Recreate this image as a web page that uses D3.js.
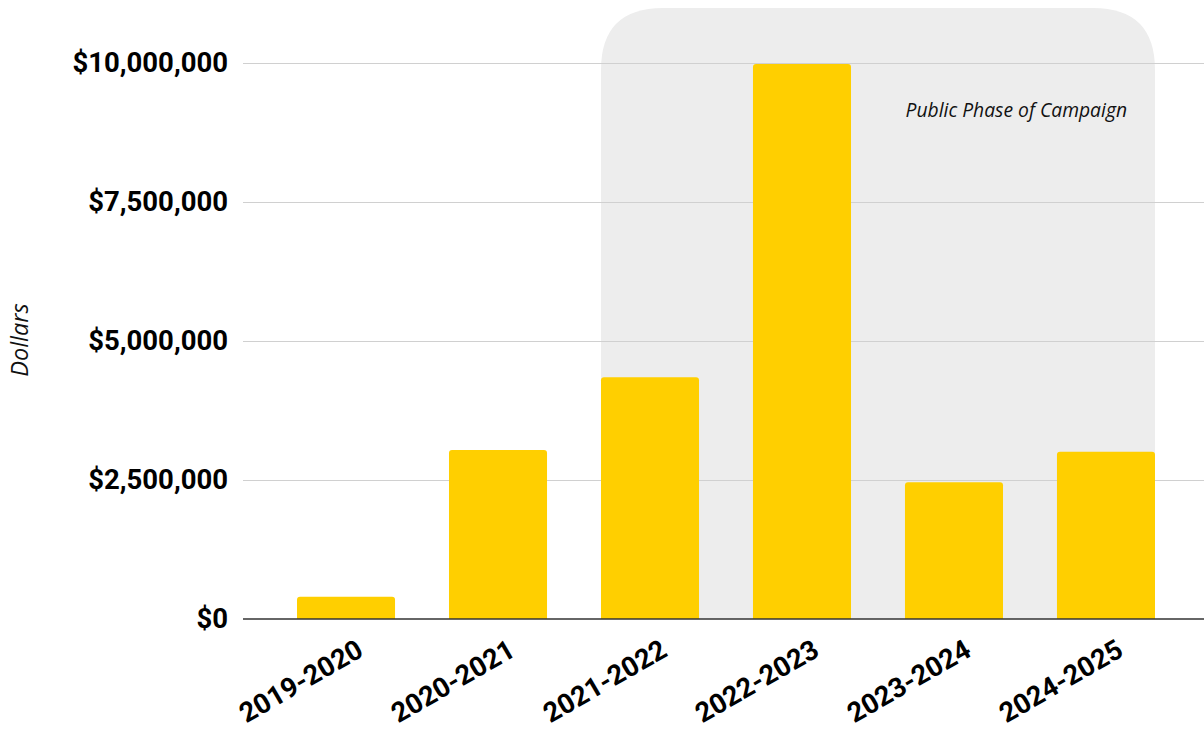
<!DOCTYPE html>
<html><head><meta charset="utf-8">
<script src="https://cdn.jsdelivr.net/npm/d3@7"></script>
<style>body{margin:0;background:#fff;} svg{display:block;}</style>
</head><body>
<svg id="chart" width="1204" height="734"></svg>
<script>
const categories = ["2019-2020","2020-2021","2021-2022","2022-2023","2023-2024","2024-2025"];
const values = [400000, 3040000, 4350000, 9980000, 2460000, 3010000];
const tickValues = [0, 2500000, 5000000, 7500000, 10000000];
const shadedCategories = ["2021-2022","2024-2025"];
const shadedLabel = "Public Phase of Campaign";
const yTitle = "Dollars";

(function(){
const svg = d3.select("#chart");
const x = d3.scaleBand().domain(categories).range([297,1155]).paddingInner(0.355).paddingOuter(0);
const y = d3.scaleLinear().domain([0,10000000]).range([619,63]);

// shaded region
const sx0 = x(shadedCategories[0]), sx1 = x(shadedCategories[1]) + x.bandwidth();
const r = 62, sTop = 8, bot = y(0);
svg.append("path")
  .attr("d", `M${sx0},${bot} L${sx0},${sTop+r} Q${sx0},${sTop} ${sx0+r},${sTop} L${sx1-r},${sTop} Q${sx1},${sTop} ${sx1},${sTop+r} L${sx1},${bot} Z`)
  .attr("fill", "#ededed");

// grid
const grid = svg.append("g").attr("transform","translate(243,0)")
  .call(d3.axisLeft(y).tickValues(tickValues).tickSize(-961).tickFormat(""));
grid.select(".domain").remove();
grid.selectAll(".tick line").attr("stroke","#d0d0d0").attr("stroke-width",1.2);
grid.selectAll(".tick").filter(d=>d===0).remove();

// y labels
const yAxis = svg.append("g").attr("transform","translate(243,0)")
  .call(d3.axisLeft(y).tickValues(tickValues).tickSize(0).tickPadding(15)
    .tickFormat(d => "$" + d3.format(",")(d)));
yAxis.select(".domain").remove();
yAxis.selectAll("text").attr("font-family","Roboto").attr("font-weight","bold")
  .attr("font-size",27.5).attr("fill","#000");

// bars
svg.append("g").selectAll("path").data(categories).join("path")
  .attr("d", (c,i) => {
    const x0 = x(c), w = x.bandwidth(), y0 = y(values[i]), yb = y(0), rr = 3;
    return `M${x0},${yb} L${x0},${y0+rr} Q${x0},${y0} ${x0+rr},${y0} L${x0+w-rr},${y0} Q${x0+w},${y0} ${x0+w},${y0+rr} L${x0+w},${yb} Z`;
  })
  .attr("fill","#ffcf00");

// baseline
svg.append("line").attr("x1",243).attr("x2",1204).attr("y1",y(0)).attr("y2",y(0))
  .attr("stroke","#333").attr("stroke-width",1.5);

// x axis labels
const xAxis = svg.append("g").attr("transform",`translate(0,${y(0)})`)
  .call(d3.axisBottom(x).tickSize(0).tickPadding(0));
xAxis.select(".domain").remove();
xAxis.selectAll("text")
  .attr("font-family","Roboto").attr("font-weight","bold").attr("font-size",27.5).attr("fill","#000")
  .attr("text-anchor","end").attr("dy",0)
  .attr("transform","translate(19,36) rotate(-30)");

// shaded label
svg.append("text").attr("x", 1127).attr("y", 117).attr("text-anchor","end")
  .attr("font-family","Open Sans").attr("font-style","italic").attr("font-size",19.3).attr("fill","#111")
  .text(shadedLabel);

// y title
svg.append("text").attr("transform","translate(28,340) rotate(-90)").attr("text-anchor","middle")
  .attr("font-family","Open Sans").attr("font-style","italic").attr("font-size",23.5).attr("fill","#111")
  .text(yTitle);
})();
</script>
</body></html>
